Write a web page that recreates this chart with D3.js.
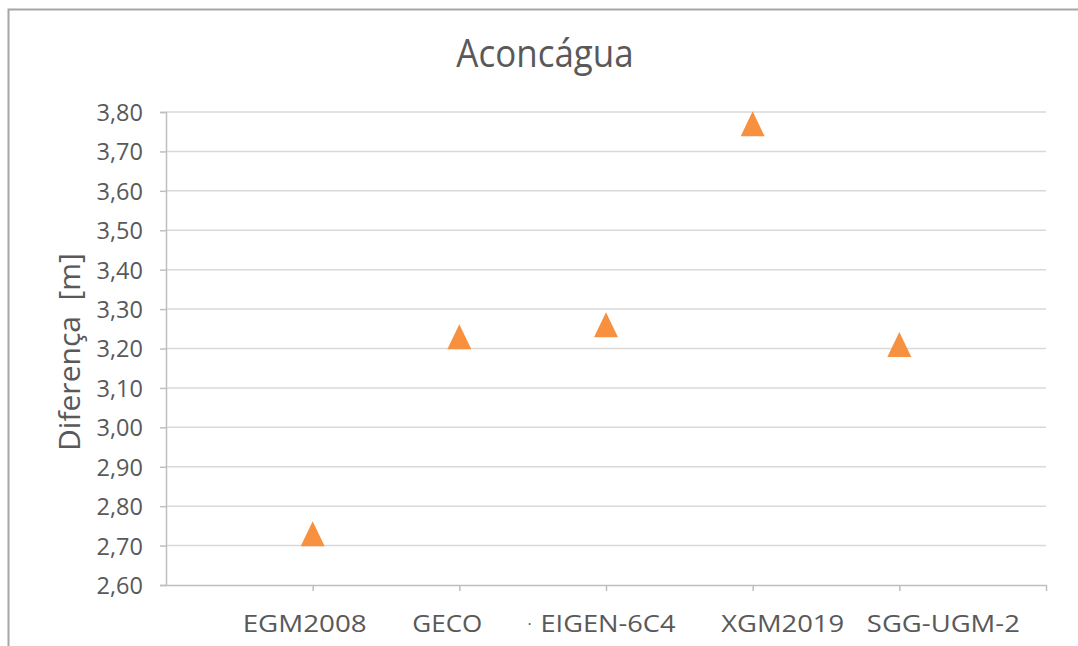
<!DOCTYPE html>
<html>
<head>
<meta charset="utf-8">
<script src="https://cdn.jsdelivr.net/npm/d3@7"></script>
<style>
  html, body { margin: 0; padding: 0; background: #fff; }
  svg { display: block; }
  text { font-family: "Open Sans", "Noto Sans", sans-serif; fill: #595959; }
</style>
</head>
<body>
<svg id="chart" width="1078" height="646"></svg>
<script>
// Geoid models compared at Aconcágua
const categories = ["EGM2008", "GECO", "EIGEN-6C4", "XGM2019", "SGG-UGM-2"];
const positions = [1, 2, 3, 4, 5];
const values = [2.73, 3.23, 3.26, 3.77, 3.21];
const yTicks = [2.6, 2.7, 2.8, 2.9, 3.0, 3.1, 3.2, 3.3, 3.4, 3.5, 3.6, 3.7, 3.8];
const title = "Aconcágua";
const yTitle = "Diferença  [m]";

const svg = d3.select("#chart");
const W = 1078, H = 646;
const plot = { left: 166, right: 1046, top: 112, bottom: 585 };

// category label placement: centre offset from the tick and set width
const labelShift = [-8, -12, 2, 30, 44];
const labelWidth = [124, 70, 135, 123, 153];

// chart frame
svg.append("rect")
  .attr("x", 8.5).attr("y", 9.5)
  .attr("width", W + 20).attr("height", H + 20)
  .attr("fill", "#fff").attr("stroke", "#a6a6a6").attr("stroke-width", 2);

const x = d3.scaleLinear().domain([0, 6]).range([plot.left, plot.right]);
const y = d3.scaleLinear().domain([2.6, 3.8]).range([plot.bottom, plot.top]);

const fmt = v => d3.format(".2f")(v).replace(".", ",");

// horizontal gridlines
svg.append("g")
  .selectAll("line")
  .data(yTicks.slice(1))
  .join("line")
  .attr("x1", plot.left).attr("x2", plot.right)
  .attr("y1", d => y(d)).attr("y2", d => y(d))
  .attr("stroke", "#d9d9d9").attr("stroke-width", 1.5);

// y axis
const yAxis = svg.append("g")
  .attr("transform", `translate(${plot.left},0)`)
  .call(d3.axisLeft(y).tickValues(yTicks).tickFormat(fmt).tickSize(6).tickPadding(17));
yAxis.select(".domain").attr("stroke", "#bfbfbf").attr("stroke-width", 1.5);
yAxis.selectAll(".tick line").attr("stroke", "#bfbfbf").attr("stroke-width", 1.5);
yAxis.selectAll(".tick text")
  .attr("fill", "#595959")
  .attr("dy", "0.36em")
  .style("font-size", "23.5px");

// x axis (ticks at each integer position, labels drawn separately)
const xAxis = svg.append("g")
  .attr("transform", `translate(0,${plot.bottom})`)
  .call(d3.axisBottom(x).tickValues([1, 2, 3, 4, 5, 6]).tickFormat("").tickSize(6).tickSizeOuter(0));
xAxis.select(".domain").attr("stroke", "#bfbfbf").attr("stroke-width", 1.5);
xAxis.selectAll(".tick line").attr("stroke", "#bfbfbf").attr("stroke-width", 1.5);

// category labels
svg.append("g")
  .selectAll("text")
  .data(categories)
  .join("text")
  .attr("x", (d, i) => x(positions[i]) + labelShift[i] - labelWidth[i] / 2)
  .attr("y", 632)
  .attr("textLength", (d, i) => labelWidth[i])
  .attr("lengthAdjust", "spacingAndGlyphs")
  .style("font-size", "23px")
  .text(d => d);

// stray dot before the third label
svg.append("text")
  .attr("x", x(3) + labelShift[2] - labelWidth[2] / 2 - 13)
  .attr("y", 630)
  .style("font-size", "16px")
  .attr("fill", "#8c8c8c")
  .text("·");

// triangle markers, centred on the value
const triangle = {
  draw(ctx, size) {
    const w = Math.sqrt(size), h = w * 1.04;
    ctx.moveTo(0, -h / 2);
    ctx.lineTo(w / 2, h / 2);
    ctx.lineTo(-w / 2, h / 2);
    ctx.closePath();
  }
};
svg.append("g")
  .selectAll("path")
  .data(values)
  .join("path")
  .attr("transform", (d, i) => `translate(${x(positions[i])},${y(d)})`)
  .attr("d", d3.symbol().type(triangle).size(576))
  .attr("fill", "#f7913f");

// title
svg.append("text")
  .attr("transform", "translate(545,67) scale(1,1.12)")
  .attr("text-anchor", "middle")
  .style("font-size", "35px")
  .text(title);

// y axis title (double space kept)
svg.append("text")
  .attr("transform", `translate(80,352) rotate(-90)`)
  .attr("text-anchor", "middle")
  .style("font-size", "30px")
  .style("white-space", "pre")
  .text(yTitle);
</script>
</body>
</html>
